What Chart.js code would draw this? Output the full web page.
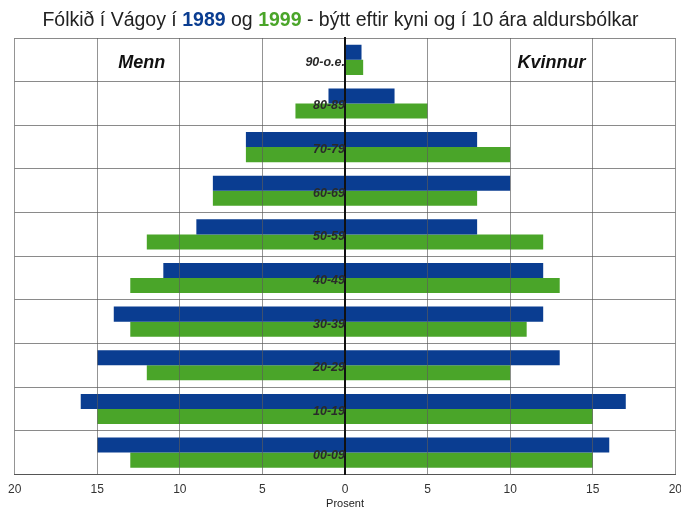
<!DOCTYPE html>
<html>
<head>
<meta charset="utf-8">
<script src="https://cdn.jsdelivr.net/npm/chart.js@4"></script>
<style>
  html, body { margin: 0; padding: 0; background: #fff; overflow: hidden; }
  #wrap { position: relative; width: 681px; height: 507px; overflow: hidden; }
  #title {
    position: absolute; left: 0; top: 8px; width: 681px; text-align: center;
    font-family: "Liberation Sans", Arial, sans-serif; font-size: 19.5px; color: #222;
  }
  #title .y89 { color: #0a3d91; font-weight: bold; }
  #title .y99 { color: #4aa529; font-weight: bold; }
  canvas { position: absolute; left: 0; top: 0; }
</style>
</head>
<body>
<div id="wrap">
  <canvas id="chart" width="690" height="511"></canvas>
  <div id="title">Fólkið í Vágoy í <span class="y89">1989</span> og <span class="y99">1999</span> - býtt eftir kyni og í 10 ára aldursbólkar</div>
</div>
<script>
// aldursbólkar, top to bottom
const groups = ["90-o.e.", "80-89", "70-79", "60-69", "50-59", "40-49", "30-39", "20-29", "10-19", "00-09"];

// prosent
const menn1989 = [0, 1, 6, 8, 9, 11, 14, 15, 16, 15];
const menn1999 = [0, 3, 6, 8, 12, 13, 13, 12, 15, 13];
const kvinnur1989 = [1, 3, 8, 10, 8, 12, 12, 13, 17, 16];
const kvinnur1999 = [1.1, 5, 10, 8, 12, 13, 11, 10, 15, 15];

const xTicks = [-20, -15, -10, -5, 0, 5, 10, 15, 20];

const blue = "#0a3d91";
const green = "#4aa529";

// Menn / Kvinnur headings inside the plot
const sideLabels = {
  id: "sideLabels",
  afterDatasetsDraw(chart) {
    let ctx = chart.ctx;
    let x = chart.scales.x;
    let y = chart.scales.y;
    let yy = y.getPixelForValue(0) + 3;
    ctx.save();
    ctx.font = "italic bold 18px 'Liberation Sans', Arial, sans-serif";
    ctx.fillStyle = "#111";
    ctx.textAlign = "center";
    ctx.textBaseline = "middle";
    ctx.fillText("Menn", x.getPixelForValue(-12.3), yy);
    ctx.fillText("Kvinnur", x.getPixelForValue(12.5), yy);
    ctx.restore();
  }
};

new Chart(document.getElementById("chart"), {
  type: "bar",
  data: {
    labels: groups,
    datasets: [
      { label: "Menn 1989", data: menn1989.map(v => -v), backgroundColor: blue, stack: "1989" },
      { label: "Kvinnur 1989", data: kvinnur1989, backgroundColor: blue, stack: "1989" },
      { label: "Menn 1999", data: menn1999.map(v => -v), backgroundColor: green, stack: "1999" },
      { label: "Kvinnur 1999", data: kvinnur1999, backgroundColor: green, stack: "1999" }
    ]
  },
  options: {
    indexAxis: "y",
    responsive: false,
    animation: false,
    categoryPercentage: 0.69,
    barPercentage: 1.0,
    layout: { padding: { top: 38, left: 8, right: 2, bottom: 0 } },
    plugins: {
      legend: { display: false },
      tooltip: { enabled: false }
    },
    scales: {
      x: {
        stacked: true,
        min: -20,
        max: 20,
        afterBuildTicks: axis => { axis.ticks = xTicks.map(v => ({ value: v })); },
        ticks: {
          callback: v => Math.abs(v),
          color: "#333",
          font: { family: "'Liberation Sans', Arial, sans-serif", size: 12 },
          padding: 8
        },
        grid: { color: "rgba(90,90,90,0.65)", lineWidth: 1, drawTicks: false, z: 1 },
        border: { color: "#555", width: 1, z: 1 },
        title: {
          display: true,
          text: "Prosent",
          color: "#222",
          font: { family: "'Liberation Sans', Arial, sans-serif", size: 11 },
          padding: { top: -7, bottom: 0 }
        }
      },
      y: {
        position: { x: 0 },
        grid: { color: "#8a8a8a", lineWidth: 1, drawTicks: false, offset: true },
        border: { color: "#111", width: 2, z: 2 },
        ticks: {
          z: 2,
          color: "#2a2a2a",
          padding: 1,
          labelOffset: 2.5,
          font: { family: "'Liberation Sans', Arial, sans-serif", size: 12.5, style: "italic", weight: "bold" }
        }
      }
    }
  },
  plugins: [sideLabels]
});
</script>
</body>
</html>
